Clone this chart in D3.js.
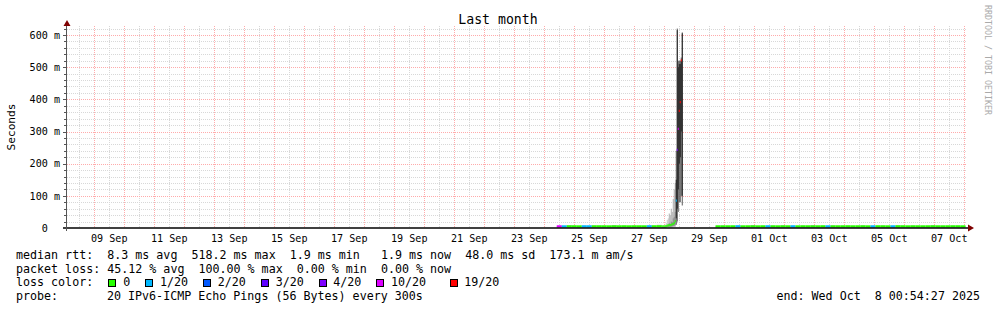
<!DOCTYPE html>
<html><head><meta charset="utf-8">
<script src="https://cdn.jsdelivr.net/npm/d3@7"></script>
<style>
html,body{margin:0;padding:0;background:#fff;}
svg{display:block;font-family:"DejaVu Sans Mono",monospace;}
text{white-space:pre;}
</style></head><body>
<svg id="c" width="997" height="310"></svg>
<script>
// ---------- data ----------
const title = "Last month";
const yLabel = "Seconds";
const watermark = "RRDTOOL / TOBI OETIKER";
const timeStart = "2025-09-08T00:54:27Z";
const timeEnd = "2025-10-08T00:54:27Z";
const xTickDates = ["2025-09-09","2025-09-11","2025-09-13","2025-09-15","2025-09-17","2025-09-19","2025-09-21","2025-09-23","2025-09-25","2025-09-27","2025-09-29","2025-10-01","2025-10-03","2025-10-05","2025-10-07"];
const xTickLabels = ["09 Sep","11 Sep","13 Sep","15 Sep","17 Sep","19 Sep","21 Sep","23 Sep","25 Sep","27 Sep","29 Sep","01 Oct","03 Oct","05 Oct","07 Oct"];
const yTickValues = [0, 0.1, 0.2, 0.3, 0.4, 0.5, 0.6];
const yTickLabels = ["0", "100 m", "200 m", "300 m", "400 m", "500 m", "600 m"];

const lossThresholds = [0, 1, 2, 3, 4, 10, 19];
const lossLabels = ["0", "1/20", "2/20", "3/20", "4/20", "10/20", "19/20"];
const lossColors = ["#26ff00", "#00b8ff", "#0059ff", "#5e00ff", "#7e00ff", "#dd00ff", "#ff0000"];

// segment 1: 4-hour steps
const seg1Start = "2025-09-24T10:00:00Z";
const seg1StepMin = 240;
const seg1Median = [0.0020,0.0019,0.0020,0.0021,0.0019,0.0020,0.0020,0.0019,0.0021,0.0020,0.0019,0.0020,0.0020,0.0021,0.0019,0.0020,0.0020,0.0019,0.0020,0.0021,0.0022];
const seg1Lost   = [10,1,0,0,0,1,1,0,0,0,0,0,0,0,0,0,0,0,1,0,0];
const seg1Min    = [0.0018,0.0018,0.0018,0.0018,0.0018,0.0018,0.0018,0.0018,0.0018,0.0018,0.0018,0.0018,0.0018,0.0018,0.0018,0.0018,0.0018,0.0018,0.0018,0.0018,0.0018];
const seg1Max    = [0.006,0.004,0.009,0.005,0.003,0.007,0.004,0.008,0.006,0.003,0.005,0.009,0.004,0.006,0.003,0.007,0.005,0.004,0.008,0.006,0.010];

// spike: 48-minute steps
const spikeStart = "2025-09-27T22:00:00Z";
const spikeStepMin = 48;
const spikeMedian = [0.002,0.002,0.002,0.002,0.003,0.004,0.005,0.006,0.006,0.007,0.008,0.010,0.012,0.018,0.082,0.240,0.305,0.361,0.388,0.518,null];
const spikeLost   = [0,0,0,0,0,0,0,0,0,0,0,0,0,0,1,4,10,19,19,19,20];
const spikeMin    = [0.0019,0.0019,0.0019,0.0019,0.002,0.002,0.002,0.002,0.002,0.002,0.002,0.003,0.003,0.004,0.010,0.020,0.050,0.080,0.080,0.100,0.070];
const spikeQ1     = [0.002,0.002,0.002,0.002,0.0025,0.003,0.003,0.004,0.004,0.004,0.005,0.006,0.007,0.010,0.030,0.060,0.120,0.200,0.220,0.300,0.100];
const spikeQ3     = [0.003,0.003,0.003,0.004,0.005,0.008,0.010,0.015,0.012,0.020,0.018,0.030,0.035,0.050,0.150,0.615,0.500,0.510,0.510,0.520,0.605];
const spikeMax    = [0.006,0.008,0.006,0.010,0.015,0.025,0.030,0.045,0.040,0.060,0.050,0.090,0.120,0.140,0.240,0.620,0.520,0.520,0.520,0.530,0.608];

// segment 2: 4-hour steps
const seg2Start = "2025-09-29T17:00:00Z";
const seg2StepMin = 240;
const seg2Median = [0.0020,0.0019,0.0020,0.0020,0.0021,0.0019,0.0020,0.0020,0.0019,0.0020,0.0021,0.0020,0.0019,0.0020,0.0020,0.0021,0.0019,0.0020,0.0020,0.0019,0.0020,0.0021,0.0020,0.0019,0.0020,0.0020,0.0021,0.0019,0.0020,0.0020,0.0019,0.0020,0.0021,0.0020,0.0019,0.0020,0.0020,0.0021,0.0019,0.0020,0.0020,0.0019,0.0020,0.0021,0.0020,0.0019,0.0020,0.0020,0.0021,0.0019];
const seg2Lost   = [0,0,0,0,1,0,0,0,0,0,1,0,0,0,0,1,0,0,0,0,0,0,1,0,0,0,0,0,0,0,0,1,0,0,0,1,0,0,0,0,0,0,0,0,0,0,0,0,0,0];
const seg2Max    = [0.005,0.007,0.004,0.006,0.008,0.004,0.005,0.009,0.004,0.006,0.005,0.007,0.004,0.008,0.005,0.006,0.004,0.007,0.005,0.009,0.004,0.006,0.005,0.008,0.004,0.006,0.007,0.004,0.005,0.008,0.004,0.006,0.005,0.007,0.004,0.006,0.009,0.005,0.004,0.007,0.005,0.006,0.004,0.008,0.005,0.006,0.004,0.007,0.005,0.006];

const legendRtt  = "median rtt:  8.3 ms avg  518.2 ms max  1.9 ms min   1.9 ms now  48.0 ms sd  173.1 m am/s";
const legendLoss = "packet loss: 45.12 % avg  100.00 % max  0.00 % min  0.00 % now";
const legendLossColor = "loss color:";
const legendProbeKey = "probe:";
const legendProbe = "20 IPv6-ICMP Echo Pings (56 Bytes) every 300s";
const legendEnd = "end: Wed Oct  8 00:54:27 2025";

// ---------- build ----------
const svg = d3.select("#c");
const X0 = 67, X1 = 967, YT = 26;
const x = d3.scaleUtc().domain([new Date(timeStart), new Date(timeEnd)]).range([65.4, 965.4]);
const y = d3.scaleLinear().domain([0, 0.6]).range([228, 35]);

function buildSteps(start, stepMin, med, lost, mn, q1, q3, mx) {
  const t0 = new Date(start).getTime();
  return med.map((m, i) => ({
    t: new Date(t0 + i * stepMin * 60000),
    t2: new Date(t0 + (i + 1) * stepMin * 60000),
    med: m, lost: lost[i], min: mn[i],
    q1: q1 ? q1[i] : null, q3: q3 ? q3[i] : null, max: mx[i]
  }));
}
const steps = [].concat(
  buildSteps(seg1Start, seg1StepMin, seg1Median, seg1Lost, seg1Min, null, null, seg1Max),
  buildSteps(spikeStart, spikeStepMin, spikeMedian, spikeLost, spikeMin, spikeQ1, spikeQ3, spikeMax),
  buildSteps(seg2Start, seg2StepMin, seg2Median, seg2Lost, seg2Median.map(() => 0.0018), null, null, seg2Max)
);

svg.append("rect").attr("width", 997).attr("height", 310).attr("fill", "#fff");

svg.append("defs").append("clipPath").attr("id", "pc")
  .append("rect").attr("x", X0).attr("y", YT).attr("width", X1 - X0).attr("height", 228 - YT);

// grid
const grid = svg.append("g").attr("shape-rendering", "crispEdges");
const minorV = d3.utcHour.every(12).range(x.domain()[0], x.domain()[1]).filter(d => d.getUTCHours() === 12);
const majorV = d3.utcDay.range(x.domain()[0], x.domain()[1]);
grid.selectAll(".mv").data(minorV).join("line")
  .attr("x1", d => Math.round(x(d)) + 0.5).attr("x2", d => Math.round(x(d)) + 0.5)
  .attr("y1", YT).attr("y2", 228).attr("stroke", "#d8d8d8").attr("stroke-dasharray", "1,1");
const minorH = d3.range(1, 32).map(i => i * 0.02).filter((v, i) => (i + 1) % 5 !== 0);
grid.selectAll(".mh").data(minorH).join("line")
  .attr("x1", X0).attr("x2", X1)
  .attr("y1", d => Math.round(y(d)) + 0.5).attr("y2", d => Math.round(y(d)) + 0.5)
  .attr("stroke", "#d8d8d8").attr("stroke-dasharray", "1,1");
grid.selectAll(".Mv").data(majorV).join("line")
  .attr("x1", d => Math.round(x(d)) + 0.5).attr("x2", d => Math.round(x(d)) + 0.5)
  .attr("y1", YT).attr("y2", 228).attr("stroke", "#ffabab").attr("stroke-dasharray", "1,1");
grid.selectAll(".Mh").data(yTickValues.slice(1)).join("line")
  .attr("x1", X0).attr("x2", X1)
  .attr("y1", d => Math.round(y(d)) + 0.5).attr("y2", d => Math.round(y(d)) + 0.5)
  .attr("stroke", "#ffabab").attr("stroke-dasharray", "1,1");

// smoke
const plot = svg.append("g").attr("clip-path", "url(#pc)");
plot.selectAll(".so").data(steps).join("rect")
  .attr("x", d => x(d.t)).attr("width", d => x(d.t2) - x(d.t))
  .attr("y", d => y(d.max)).attr("height", d => y(d.min) - y(d.max))
  .attr("fill", d => d.max > 0.2 ? "#5a5a5a" : (d.max > 0.03 ? "#b0b0b0" : "#c8c8c8"));
plot.selectAll(".si").data(steps.filter(d => d.q1 != null)).join("rect")
  .attr("x", d => x(d.t)).attr("width", d => x(d.t2) - x(d.t))
  .attr("y", d => y(d.q3)).attr("height", d => y(d.q1) - y(d.q3))
  .attr("fill", d => d.max > 0.2 ? "#262626" : "#8a8a8a");

function lossColor(l) {
  let c = lossColors[0];
  lossThresholds.forEach((th, i) => { if (l >= th) c = lossColors[i]; });
  return c;
}

svg.append("line").attr("x1", 63).attr("x2", 968).attr("y1", 228).attr("y2", 228)
  .attr("stroke", "#000").attr("stroke-width", 1.5);

// median
plot.selectAll(".md").data(steps.filter(d => d.med != null)).join("line")
  .attr("x1", d => x(d.t)).attr("x2", d => x(d.t2))
  .attr("y1", d => y(d.med) - 1).attr("y2", d => y(d.med) - 1)
  .attr("stroke", d => lossColor(d.lost)).attr("stroke-width", 2.2);

// y axis
const ax = svg.append("g").attr("shape-rendering", "crispEdges");
ax.append("line").attr("x1", 66.5).attr("x2", 66.5).attr("y1", 231).attr("y2", 24).attr("stroke", "#555");
ax.selectAll(".tm").data(minorH).join("line")
  .attr("x1", 64).attr("x2", 67).attr("y1", d => Math.round(y(d)) + 0.5).attr("y2", d => Math.round(y(d)) + 0.5)
  .attr("stroke", "#555");
ax.selectAll(".tM").data(yTickValues.slice(1)).join("line")
  .attr("x1", 63).attr("x2", 67).attr("y1", d => Math.round(y(d)) + 0.5).attr("y2", d => Math.round(y(d)) + 0.5)
  .attr("stroke", "#555");
svg.append("path").attr("d", "M63.5,26L70.5,26L67,20Z").attr("fill", "#7f0000");
svg.append("path").attr("d", "M968,224.5L968,231.5L974,228Z").attr("fill", "#7f0000");

// tick labels
svg.selectAll(".yl").data(yTickValues).join("text")
  .attr("x", (d, i) => yTickLabels[i].length === 1 ? 47.8 : 60)
  .attr("y", d => y(d) + 3.7).attr("text-anchor", "end")
  .attr("font-size", "10.1px").attr("fill", "#000")
  .text((d, i) => yTickLabels[i]);
svg.selectAll(".xl").data(xTickDates).join("text")
  .attr("x", d => x(d3.utcHour.offset(new Date(d + "T00:00:00Z"), 12)))
  .attr("y", 241.5).attr("text-anchor", "middle")
  .attr("font-size", "10.1px").attr("fill", "#000")
  .text((d, i) => xTickLabels[i]);

// title, labels
svg.append("text").attr("x", 498).attr("y", 24).attr("text-anchor", "middle")
  .attr("font-size", "13.2px").text(title);
svg.append("text").attr("transform", "translate(14.5,127) rotate(-90)").attr("text-anchor", "middle")
  .attr("font-size", "11.2px").text(yLabel);
svg.append("text").attr("transform", "translate(984.5,5) rotate(90)")
  .attr("font-size", "8.3px").attr("fill", "#aaa").text(watermark);

// legend
const lg = svg.append("g").attr("font-size", "11.66px").attr("fill", "#000");
lg.append("text").attr("x", 16).attr("y", 259).text(legendRtt);
lg.append("text").attr("x", 16).attr("y", 272.7).text(legendLoss);
lg.append("text").attr("x", 16).attr("y", 286.4).text(legendLossColor);
lg.append("text").attr("x", 16).attr("y", 300).text(legendProbeKey);
lg.append("text").attr("x", 107).attr("y", 300).text(legendProbe);
lg.append("text").attr("x", 980).attr("y", 300).attr("text-anchor", "end").text(legendEnd);
const boxX = [108.5, 145.5, 203.5, 261.5, 319.5, 376.5, 450.5];
const labX = [123.3, 160, 217.7, 275.7, 333.3, 391, 464.3];
lg.selectAll(".lb").data(lossLabels).join("rect")
  .attr("x", (d, i) => boxX[i]).attr("y", 279.5).attr("width", 7).attr("height", 7)
  .attr("fill", (d, i) => lossColors[i]).attr("stroke", "#000").attr("stroke-width", 1)
  .attr("shape-rendering", "crispEdges");
lg.selectAll(".lt").data(lossLabels).join("text")
  .attr("x", (d, i) => labX[i]).attr("y", 286.4).text(d => d);
</script>
</body></html>
